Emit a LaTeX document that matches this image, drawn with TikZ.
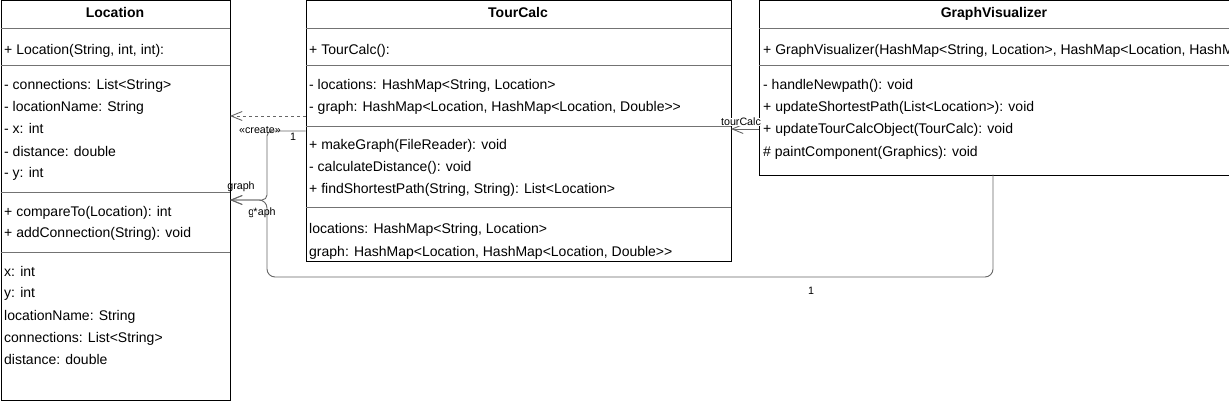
\documentclass[tikz,border=0pt]{standalone}
\usepackage{fontspec}
\setmainfont{Liberation Sans}
\usetikzlibrary{arrows.meta}
\begin{document}
\begin{tikzpicture}[x=1pt,y=-1pt,
  cls/.style={draw=black, line width=1pt, inner sep=0pt, anchor=north west, fill=white},
  sepline/.style={draw=black!55, line width=0.8pt},
  txt/.style={anchor=base west, inner sep=0pt, font=\fontsize{14}{16}\selectfont},
  ttl/.style={anchor=base, inner sep=0pt, font=\fontsize{14}{16}\selectfont\bfseries},
  conn/.style={draw=black!60, line width=0.9pt},
  lbl/.style={inner sep=0.5pt, font=\fontsize{10.7}{12}\selectfont},
  opentip/.style={-{Straight Barb[length=11pt,width=9pt]}}
]
\useasboundingbox (0,0) rectangle (1229,401);
\fill[white] (0,0) rectangle (1229,401);

% ---------- boxes ----------
\node[cls, minimum width=229pt, minimum height=399.5pt] (loc) at (0.5,0.5) {};
\node[cls, minimum width=425pt, minimum height=260pt] (tc) at (305.5,0.5) {};
\node[cls, minimum width=470pt, minimum height=174pt] (gv) at (758.5,0.5) {};

% ---------- separators ----------
\foreach \y in {28,65,192,252} \draw[sepline] (0.5,\y) -- (229.5,\y);
\foreach \y in {28,65,126,207} \draw[sepline] (305.5,\y) -- (730.5,\y);
\foreach \y in {28,65} \draw[sepline] (758.5,\y) -- (1228.5,\y);

% ---------- Location ----------
\node[ttl] (locT) at (115,18) {Location};
\node[txt] (loc1) at (4,54.5) {+ Location(String, int, int):};
\node[txt] (loc2) at (4,89.5) {- connections: List<String>};
\node[txt] (loc3) at (4,111.8) {- locationName: String};
\node[txt] (loc4) at (4,133.8) {- x: int};
\node[txt] (loc5) at (4,156.2) {- distance: double};
\node[txt] (loc6) at (4,177.8) {- y: int};
\node[txt] (loc7) at (4,216.2) {+ compareTo(Location): int};
\node[txt] (loc8) at (4,237.8) {+ addConnection(String): void};
\node[txt] (loc9) at (4,276.2) {x: int};
\node[txt] (loc10) at (4,297.8) {y: int};
\node[txt] (loc11) at (4,320.5) {locationName: String};
\node[txt] (loc12) at (4,342.8) {connections: List<String>};
\node[txt] (loc13) at (4,364.5) {distance: double};

% ---------- TourCalc ----------
\node[ttl] (tcT) at (518,18) {TourCalc};
\node[txt] (tc1) at (309,54.5) {+ TourCalc():};
\node[txt] (tc2) at (309,89.5) {- locations: HashMap<String, Location>};
\node[txt] (tc3) at (309,111.8) {- graph: HashMap<Location, HashMap<Location, Double>{}>};
\node[txt] (tc4) at (309,149.5) {+ makeGraph(FileReader): void};
\node[txt] (tc5) at (309,171.2) {- calculateDistance(): void};
\node[txt] (tc6) at (309,193.5) {+ findShortestPath(String, String): List<Location>};
\node[txt] (tc7) at (309,233.8) {locations: HashMap<String, Location>};
\node[txt] (tc8) at (309,256.2) {graph: HashMap<Location, HashMap<Location, Double>{}>};

% ---------- GraphVisualizer ----------
\node[ttl] (gvT) at (994,18) {GraphVisualizer};
\begin{scope}
  \clip (759,28.5) rectangle (1228,64.5);
  \node[txt] (gv1) at (763,54.5) {+ GraphVisualizer(HashMap<String, Location>, HashMap<Location, HashMap};
\end{scope}
\node[txt] (gv2) at (763,89.5) {- handleNewpath(): void};
\node[txt] (gv3) at (763,111.8) {+ updateShortestPath(List<Location>): void};
\node[txt] (gv4) at (763,133.8) {+ updateTourCalcObject(TourCalc): void};
\node[txt] (gv5) at (763,156.2) {\# paintComponent(Graphics): void};

% ---------- connector anchors ----------
\coordinate (crS) at (305.5,116);
\coordinate (crE) at (230,116);
\coordinate (g1S) at (305.5,131);
\coordinate (g1B) at (267,131);
\coordinate (gE) at (230,200);
\coordinate (gM) at (267,200);
\coordinate (g2S) at (993,174.5);
\coordinate (g2B) at (993,277);
\coordinate (g2C) at (267,277);
\coordinate (tkS) at (758.5,129);
\coordinate (tkE) at (731,129);

% ---------- connectors ----------
\draw[conn, dashed, dash pattern=on 3pt off 3pt, opentip] (crS) -- (crE);
\draw[conn, rounded corners=5pt, opentip] (g1S) -- (g1B) -- (gM) -- (gE);
\draw[conn, rounded corners=8pt, opentip] (g2S) -- (g2B) -- (g2C) -- (gM) -- (gE);
\draw[conn, opentip] (tkS) -- (tkE);

% ---------- labels ----------
\node[lbl] (lcreate) at (260,130) {«create»};
\node[lbl] (lone1) at (293,137) {1};
\node[lbl] (lgraph1) at (241,187) {graph};
\node[lbl] (lgraph2) at (262,213) {graph};
\node[lbl, fill=white, inner sep=0pt] (lstar) at (255.5,212) {*};
\node[lbl, fill=white] (ltour) at (741,122) {tourCalc};
\node[lbl] (lone2) at (811,291) {1};
\end{tikzpicture}
\end{document}
